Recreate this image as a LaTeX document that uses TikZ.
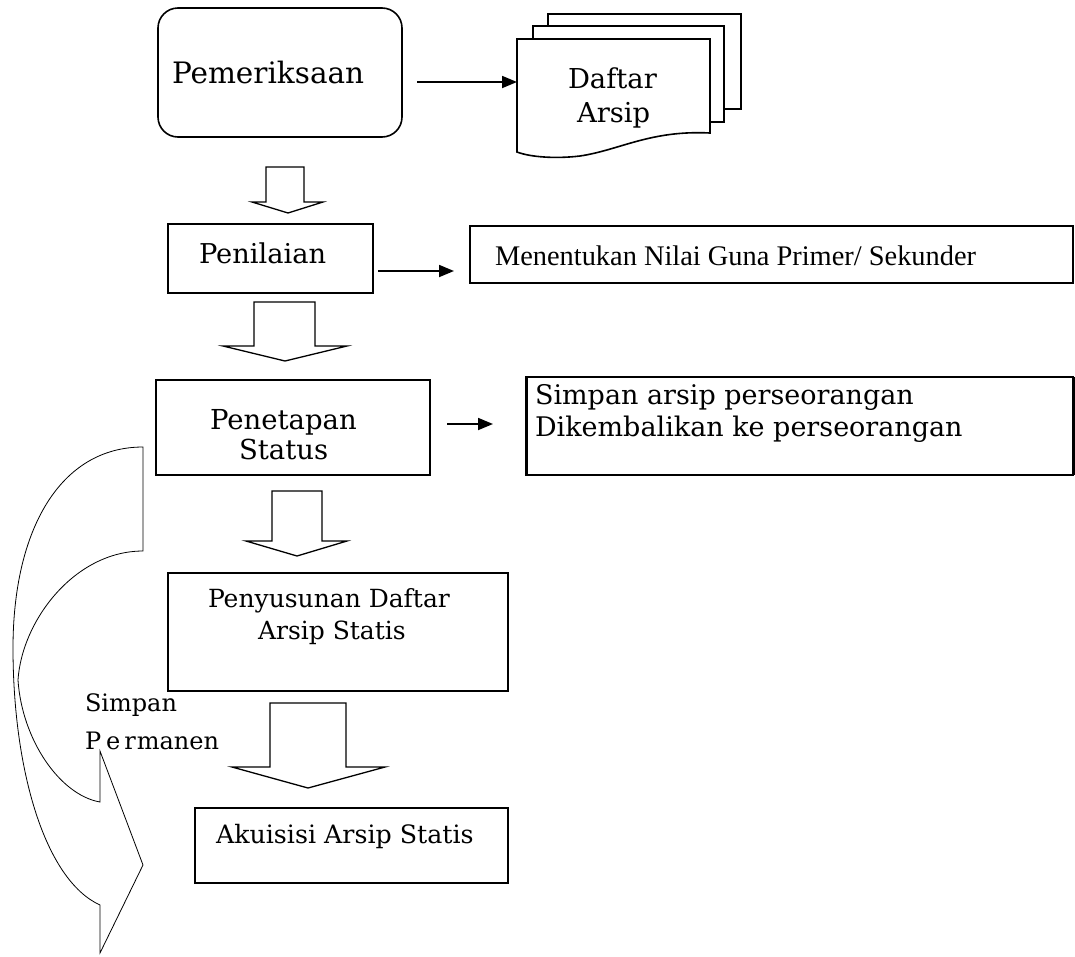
\documentclass[tikz,border=0pt]{standalone}
\usepackage{fontspec}
\setmainfont{DejaVu Serif}
\newfontfamily\libserif{Liberation Serif}
\usetikzlibrary{arrows.meta}
\begin{document}
\begin{tikzpicture}[x=1pt,y=-1pt,
  box/.style={draw,line width=1.3pt,inner sep=0pt,outer sep=0pt},
  lbl/.style={anchor=base west,inner sep=0pt,outer sep=0pt},
  conn/.style={line width=1.8pt,-{Triangle[length=15pt,width=12pt]}},
  blockarrow/.style={draw,line width=1.3pt,fill=white,line join=miter},
  page/.style={draw,line width=1.6pt,fill=white},
  curvearrow/.style={draw,line width=0.8pt}]
\useasboundingbox[fill=white] (0,0) rectangle (1075,956);

% Pemeriksaan
\node[box,line width=1.6pt,rounded corners=20pt,minimum width=244pt,minimum height=129pt] (pem) at (280,72.5) {};
\node[lbl,font=\fontsize{29.5}{32}\selectfont] (tpem) at (172,83) {Pemeriksaan};

% Daftar Arsip (multi-document)
\draw[page] (548,14) rectangle (741,109);
\draw[page] (533,26) rectangle (724,122);
\draw[page] (517,39) -- (710,39) -- (710,133)
  .. controls (650,130) and (620,150) .. (580,156)
  .. controls (555,159) and (530,157) .. (517,152) -- cycle;
\coordinate (doc) at (517,82);
\node[lbl,font=\fontsize{27.4}{30}\selectfont] (tdaf1) at (568,88) {Daftar};
\node[lbl,font=\fontsize{27.4}{30}\selectfont] (tdaf2) at (577,122) {Arsip};

\coordinate (a1s) at (417,82);
\draw[conn] (a1s) -- (doc);

% block arrow 1
\draw[blockarrow] (266,167) -- (304,167) -- (304,202) -- (323,202) -- (288,213) -- (252,202) -- (266,202) -- cycle;

% Penilaian
\node[box,minimum width=205pt,minimum height=69pt] (pen) at (270.5,258.5) {};
\node[lbl,font=\fontsize{27.3}{30}\selectfont] (tpen) at (199,263) {Penilaian};

% Menentukan
\node[box,line width=1.1pt,minimum width=603pt,minimum height=57pt] (men) at (771.5,254.5) {};
\draw[line width=2.4pt] (men.north west) -- (men.north east);
\draw[line width=2.4pt] (men.south west) -- (men.south east);
\node[lbl,font=\libserif\fontsize{28.4}{32}\selectfont] (tmen) at (495,265) {Menentukan Nilai Guna Primer/ Sekunder};

\coordinate (a2s) at (378,271);
\coordinate (a2e) at (454,271);
\draw[conn] (a2s) -- (a2e);

% block arrow 2
\draw[blockarrow] (254,302) -- (315,302) -- (315,346) -- (347,346) -- (285,361) -- (223,346) -- (254,346) -- cycle;

% Penetapan Status
\node[box,minimum width=274pt,minimum height=95pt] (pet) at (293,427.5) {};
\node[lbl,font=\fontsize{27.5}{30}\selectfont] (tpet1) at (210,429) {Penetapan};
\node[lbl,font=\fontsize{27.5}{30}\selectfont] (tpet2) at (239,459) {Status};

\coordinate (a3s) at (447,424);
\coordinate (a3e) at (493,424);
\draw[conn] (a3s) -- (a3e);

% Simpan arsip box
\node[box,minimum width=547pt,minimum height=98pt] (sim) at (799.5,426) {};
\draw[line width=3pt] (sim.north west) -- (sim.south west);
\draw[line width=3pt] (sim.north east) -- (sim.south east);
\node[lbl,font=\fontsize{27}{30}\selectfont] (tsim1) at (535,404) {Simpan arsip perseorangan};
\node[lbl,font=\fontsize{27}{30}\selectfont] (tsim2) at (535,436) {Dikembalikan ke perseorangan};

% block arrow 3
\draw[blockarrow] (272,491) -- (322,491) -- (322,541) -- (347,541) -- (297,556) -- (246,541) -- (272,541) -- cycle;

% Penyusunan
\node[box,minimum width=340pt,minimum height=118pt] (pny) at (338,632) {};
\node[lbl,font=\fontsize{25}{28}\selectfont] (tpny1) at (208,607) {Penyusunan Daftar};
\node[lbl,font=\fontsize{25}{28}\selectfont] (tpny2) at (258,639) {Arsip Statis};

% block arrow 4
\draw[blockarrow] (270,703) -- (346,703) -- (346,767) -- (385,767) -- (308,788) -- (232,767) -- (270,767) -- cycle;

% Akuisisi
\node[box,minimum width=313pt,minimum height=75pt] (aku) at (351.5,845.5) {};
\node[lbl,font=\fontsize{25.3}{28}\selectfont] (taku) at (216,843) {Akuisisi Arsip Statis};

% curved arrow (Simpan Permanen)
\draw[curvearrow] (143,447) -- (143,551)
  .. controls (75,551) and (22,620) .. (18,680)
  .. controls (22,740) and (60,795) .. (100,802)
  -- (100,751) -- (143,865) -- (100,953) -- (100,905)
  .. controls (45,880) and (13,770) .. (13,648)
  .. controls (13,530) and (60,447) .. (143,447) -- cycle;
\node[lbl,font=\fontsize{24}{27}\selectfont] (tsp1) at (85,711) {Simpan};
\node[lbl,font=\fontsize{24}{27}\selectfont] (tsp2) at (85,749) {P\hspace{5pt}e\hspace{4pt}r\hspace{1pt}manen};
\end{tikzpicture}
\end{document}
